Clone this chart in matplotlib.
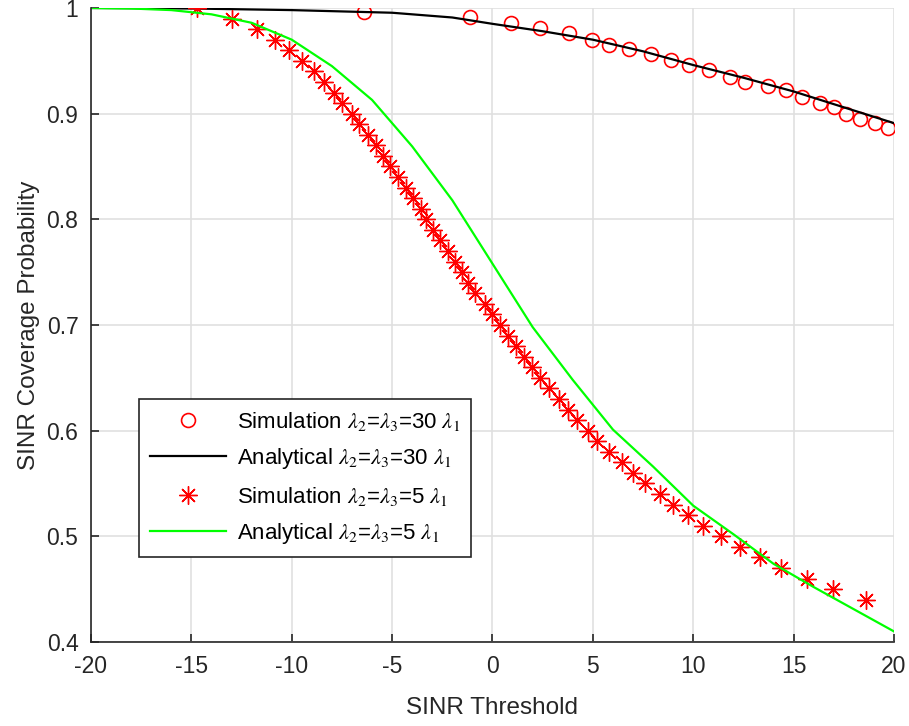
import matplotlib
matplotlib.use("Agg")
import matplotlib.pyplot as plt

plt.rcParams['font.family'] = ['Liberation Sans', 'DejaVu Sans']
plt.rcParams['axes.unicode_minus'] = False
plt.rcParams['mathtext.fontset'] = 'stix'

# simulation, lambda2 = lambda3 = 30 lambda1
sim30_x = [-6.4, -1.1, 0.9, 2.37, 3.8, 4.96, 5.8, 6.8, 7.9, 8.9, 9.8, 10.8,
           11.85, 12.6, 13.7, 14.6, 15.4, 16.3, 17.0, 17.6, 18.3, 19.05, 19.7]
sim30_y = [0.996, 0.991, 0.986, 0.981, 0.976, 0.970, 0.965, 0.961, 0.956,
           0.951, 0.946, 0.941, 0.935, 0.930, 0.926, 0.922, 0.916, 0.910,
           0.906, 0.900, 0.895, 0.891, 0.886]

# analytical, lambda2 = lambda3 = 30 lambda1
ana30_x = [-20, -15, -10, -5, -2, 0, 2.5, 5, 7.5, 10, 12.5, 15, 17.5, 20]
ana30_y = [1.0, 0.9995, 0.998, 0.9955, 0.991, 0.985, 0.978, 0.970, 0.959,
           0.946, 0.934, 0.921, 0.906, 0.891]

# simulation, lambda2 = lambda3 = 5 lambda1
sim5_x = [-14.70, -12.96, -11.75, -10.83, -10.12, -9.50, -8.89, -8.41, -7.91,
          -7.51, -7.01, -6.63, -6.19, -5.80, -5.47, -5.11, -4.69, -4.31,
          -3.94, -3.58, -3.31, -2.96, -2.62, -2.20, -1.87, -1.53, -1.21,
          -0.87, -0.37, -0.04, 0.37, 0.79, 1.16, 1.55, 1.99, 2.37, 2.83,
          3.33, 3.78, 4.22, 4.77, 5.22, 5.82, 6.43, 7.00, 7.62, 8.34, 9.01,
          9.75, 10.47, 11.38, 12.33, 13.32, 14.36, 15.65, 16.95, 18.60]
sim5_y = [1.00, 0.99, 0.98, 0.97, 0.96, 0.95, 0.94, 0.93, 0.92, 0.91, 0.90,
          0.89, 0.88, 0.87, 0.86, 0.85, 0.84, 0.83, 0.82, 0.81, 0.80, 0.79,
          0.78, 0.77, 0.76, 0.75, 0.74, 0.73, 0.72, 0.71, 0.70, 0.69, 0.68,
          0.67, 0.66, 0.65, 0.64, 0.63, 0.62, 0.61, 0.60, 0.59, 0.58, 0.57,
          0.56, 0.55, 0.54, 0.53, 0.52, 0.51, 0.50, 0.49, 0.48, 0.47, 0.46,
          0.45, 0.44]

# analytical, lambda2 = lambda3 = 5 lambda1
ana5_x = [-20, -18, -16, -14, -12, -10, -8, -6, -4, -2, 0, 2, 4, 6, 8, 10,
          12, 14, 16, 18, 20]
ana5_y = [1.0, 0.9995, 0.998, 0.994, 0.986, 0.970, 0.945, 0.913, 0.869,
          0.818, 0.758, 0.698, 0.648, 0.601, 0.566, 0.529, 0.502, 0.474,
          0.452, 0.431, 0.410]

labels = [r'Simulation $\lambda_2$=$\lambda_3$=30 $\lambda_1$',
          r'Analytical $\lambda_2$=$\lambda_3$=30 $\lambda_1$',
          r'Simulation $\lambda_2$=$\lambda_3$=5 $\lambda_1$',
          r'Analytical $\lambda_2$=$\lambda_3$=5 $\lambda_1$']

fig = plt.figure(figsize=(9.09, 7.26), dpi=100)
ax = fig.add_axes([0.1001, 0.1157, 0.8834, 0.8733])

ax.plot(sim30_x, sim30_y, linestyle='none', marker='o', markersize=10,
        markerfacecolor='none', markeredgecolor='#ff0000', markeredgewidth=1.2,
        label=labels[0])
ax.plot(ana30_x, ana30_y, color='black', linewidth=1.6, label=labels[1])
ax.plot(sim5_x, sim5_y, linestyle='none', marker=(8, 2, 0), markersize=13,
        markeredgecolor='#ff0000', markeredgewidth=1.0, label=labels[2])
ax.plot(ana5_x, ana5_y, color='#00ff00', linewidth=1.6, label=labels[3])

ax.set_xlim(-20, 20)
ax.set_ylim(0.4, 1.0)
ax.set_xticks(range(-20, 21, 5))
ax.set_yticks([0.4, 0.5, 0.6, 0.7, 0.8, 0.9, 1.0])
ax.set_yticklabels(['0.4', '0.5', '0.6', '0.7', '0.8', '0.9', '1'])
ax.grid(True, color='#e0e0e0', linewidth=1.2)
ax.set_axisbelow(True)
for s in ['top', 'right']:
    ax.spines[s].set_visible(False)
for s in ['left', 'bottom']:
    ax.spines[s].set_color('#262626')
    ax.spines[s].set_linewidth(1.2)
ax.tick_params(direction='in', length=6, width=1.2, colors='#262626',
               labelsize=16.5, pad=9)

ax.set_xlabel('SINR Threshold', fontsize=17.5, color='#262626', labelpad=14)
ax.set_ylabel('SINR Coverage Probability', fontsize=17.5, color='#262626',
              labelpad=5)

leg = ax.legend(loc='lower left', bbox_to_anchor=(0.06, 0.134), fontsize=16,
                handlelength=3.4, handletextpad=0.5, labelspacing=0.6,
                borderpad=0.5, borderaxespad=0, fancybox=False, framealpha=1)
leg.get_frame().set_edgecolor('#262626')
leg.get_frame().set_linewidth(1.2)

fig.savefig('out.png', dpi=100)
